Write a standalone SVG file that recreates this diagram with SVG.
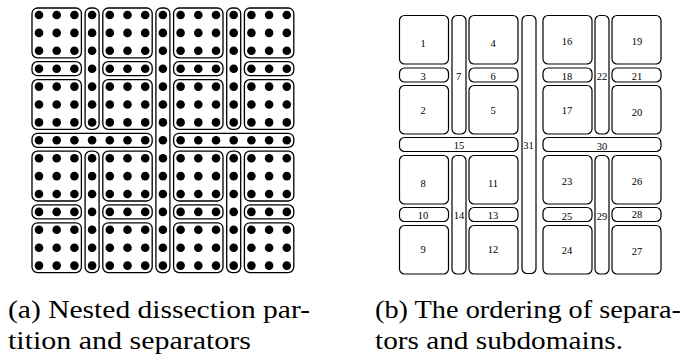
<svg xmlns="http://www.w3.org/2000/svg" xmlns:xlink="http://www.w3.org/1999/xlink" width="686" height="358" viewBox="0 0 686 358">
<style>
.r{fill:none;stroke:#000;stroke-width:1.3}
.q{fill:none;stroke:#000;stroke-width:1.2}
.d{fill:#000}
.n{font-family:"Liberation Serif","Times New Roman",serif;font-size:10.5px;text-anchor:middle;fill:#000}
.c{font-family:"Liberation Serif","Times New Roman",serif;font-size:25px;fill:#000}
</style>
<defs>
<g id="h3" class="d"><circle cx="0" cy="0" r="4.3"/><circle cx="17.7" cy="0" r="4.3"/><circle cx="35.4" cy="0" r="4.3"/></g>
<g id="b9"><use href="#h3"/><use href="#h3" y="17.9"/><use href="#h3" y="35.8"/></g>
<g id="v7" class="d"><circle cx="0" cy="0" r="4.3"/><circle cx="0" cy="17.9" r="4.3"/><circle cx="0" cy="35.8" r="4.3"/><circle cx="0" cy="53.7" r="4.3"/><circle cx="0" cy="71.6" r="4.3"/><circle cx="0" cy="89.5" r="4.3"/><circle cx="0" cy="107.4" r="4.3"/></g>
<g id="h7" class="d"><circle cx="0" cy="0" r="4.3"/><circle cx="17.7" cy="0" r="4.3"/><circle cx="35.4" cy="0" r="4.3"/><circle cx="53.1" cy="0" r="4.3"/><circle cx="70.8" cy="0" r="4.3"/><circle cx="88.5" cy="0" r="4.3"/><circle cx="106.2" cy="0" r="4.3"/></g>
<g id="v15"><use href="#v7"/><use href="#v7" y="143.2"/><circle class="d" cx="0" cy="125.3" r="4.3"/></g>
</defs>

<!-- (a) nested dissection partition -->
<g id="a1"><rect class="r" x="32" y="8" width="49.4" height="49.8" rx="5.5"/><use href="#b9" x="39" y="15"/></g>
<g id="a2"><rect class="r" x="32" y="79.6" width="49.4" height="49.8" rx="5.5"/><use href="#b9" x="39" y="86.6"/></g>
<g id="a3"><rect class="r" x="32" y="61.7" width="49.4" height="14" rx="5.5"/><use href="#h3" x="39" y="68.7"/></g>
<g id="a4"><rect class="r" x="102.8" y="8" width="49.4" height="49.8" rx="5.5"/><use href="#b9" x="109.8" y="15"/></g>
<g id="a5"><rect class="r" x="102.8" y="79.6" width="49.4" height="49.8" rx="5.5"/><use href="#b9" x="109.8" y="86.6"/></g>
<g id="a6"><rect class="r" x="102.8" y="61.7" width="49.4" height="14" rx="5.5"/><use href="#h3" x="109.8" y="68.7"/></g>
<g id="a7"><rect class="r" x="85.1" y="8" width="14" height="121.4" rx="5.5"/><use href="#v7" x="92.1" y="15"/></g>
<g id="a8"><rect class="r" x="32" y="151.2" width="49.4" height="49.8" rx="5.5"/><use href="#b9" x="39" y="158.2"/></g>
<g id="a9"><rect class="r" x="32" y="222.8" width="49.4" height="49.8" rx="5.5"/><use href="#b9" x="39" y="229.8"/></g>
<g id="a10"><rect class="r" x="32" y="204.9" width="49.4" height="14" rx="5.5"/><use href="#h3" x="39" y="211.9"/></g>
<g id="a11"><rect class="r" x="102.8" y="151.2" width="49.4" height="49.8" rx="5.5"/><use href="#b9" x="109.8" y="158.2"/></g>
<g id="a12"><rect class="r" x="102.8" y="222.8" width="49.4" height="49.8" rx="5.5"/><use href="#b9" x="109.8" y="229.8"/></g>
<g id="a13"><rect class="r" x="102.8" y="204.9" width="49.4" height="14" rx="5.5"/><use href="#h3" x="109.8" y="211.9"/></g>
<g id="a14"><rect class="r" x="85.1" y="151.2" width="14" height="121.4" rx="5.5"/><use href="#v7" x="92.1" y="158.2"/></g>
<g id="a15"><rect class="r" x="32" y="133.3" width="120.2" height="14" rx="5.5"/><use href="#h7" x="39" y="140.3"/></g>
<g id="a16"><rect class="r" x="173.6" y="8" width="49.4" height="49.8" rx="5.5"/><use href="#b9" x="180.6" y="15"/></g>
<g id="a17"><rect class="r" x="173.6" y="79.6" width="49.4" height="49.8" rx="5.5"/><use href="#b9" x="180.6" y="86.6"/></g>
<g id="a18"><rect class="r" x="173.6" y="61.7" width="49.4" height="14" rx="5.5"/><use href="#h3" x="180.6" y="68.7"/></g>
<g id="a19"><rect class="r" x="244.4" y="8" width="49.4" height="49.8" rx="5.5"/><use href="#b9" x="251.4" y="15"/></g>
<g id="a20"><rect class="r" x="244.4" y="79.6" width="49.4" height="49.8" rx="5.5"/><use href="#b9" x="251.4" y="86.6"/></g>
<g id="a21"><rect class="r" x="244.4" y="61.7" width="49.4" height="14" rx="5.5"/><use href="#h3" x="251.4" y="68.7"/></g>
<g id="a22"><rect class="r" x="226.7" y="8" width="14" height="121.4" rx="5.5"/><use href="#v7" x="233.7" y="15"/></g>
<g id="a23"><rect class="r" x="173.6" y="151.2" width="49.4" height="49.8" rx="5.5"/><use href="#b9" x="180.6" y="158.2"/></g>
<g id="a24"><rect class="r" x="173.6" y="222.8" width="49.4" height="49.8" rx="5.5"/><use href="#b9" x="180.6" y="229.8"/></g>
<g id="a25"><rect class="r" x="173.6" y="204.9" width="49.4" height="14" rx="5.5"/><use href="#h3" x="180.6" y="211.9"/></g>
<g id="a26"><rect class="r" x="244.4" y="151.2" width="49.4" height="49.8" rx="5.5"/><use href="#b9" x="251.4" y="158.2"/></g>
<g id="a27"><rect class="r" x="244.4" y="222.8" width="49.4" height="49.8" rx="5.5"/><use href="#b9" x="251.4" y="229.8"/></g>
<g id="a28"><rect class="r" x="244.4" y="204.9" width="49.4" height="14" rx="5.5"/><use href="#h3" x="251.4" y="211.9"/></g>
<g id="a29"><rect class="r" x="226.7" y="151.2" width="14" height="121.4" rx="5.5"/><use href="#v7" x="233.7" y="158.2"/></g>
<g id="a30"><rect class="r" x="173.6" y="133.3" width="120.2" height="14" rx="5.5"/><use href="#h7" x="180.6" y="140.3"/></g>
<g id="a31"><rect class="r" x="155.9" y="8" width="14" height="264.6" rx="5.5"/><use href="#v15" x="162.9" y="15"/></g>

<!-- (b) ordering -->
<g id="b1"><rect class="q" x="399.5" y="15.5" width="49" height="48.5" rx="5"/><text class="n" x="423" y="47">1</text></g>
<g id="b2"><rect class="q" x="399.5" y="85.5" width="49" height="48.5" rx="5"/><text class="n" x="423" y="114">2</text></g>
<g id="b3"><rect class="q" x="399.5" y="68" width="49" height="14" rx="5"/><text class="n" x="423" y="79.5">3</text></g>
<g id="b4"><rect class="q" x="469" y="15.5" width="49" height="48.5" rx="5"/><text class="n" x="493" y="47">4</text></g>
<g id="b5"><rect class="q" x="469" y="85.5" width="49" height="48.5" rx="5"/><text class="n" x="493" y="114">5</text></g>
<g id="b6"><rect class="q" x="469" y="68" width="49" height="14" rx="5"/><text class="n" x="493" y="79.5">6</text></g>
<g id="b7"><rect class="q" x="452" y="15.5" width="14" height="118.5" rx="5"/><text class="n" x="458.5" y="79.5">7</text></g>
<g id="b8"><rect class="q" x="399.5" y="155.5" width="49" height="48.5" rx="5"/><text class="n" x="423" y="187">8</text></g>
<g id="b9n"><rect class="q" x="399.5" y="225.5" width="49" height="48.5" rx="5"/><text class="n" x="423" y="253">9</text></g>
<g id="b10"><rect class="q" x="399.5" y="207.5" width="49" height="14" rx="5"/><text class="n" x="423" y="218.5">10</text></g>
<g id="b11"><rect class="q" x="469" y="155.5" width="49" height="48.5" rx="5"/><text class="n" x="493" y="187">11</text></g>
<g id="b12"><rect class="q" x="469" y="225.5" width="49" height="48.5" rx="5"/><text class="n" x="493" y="253">12</text></g>
<g id="b13"><rect class="q" x="469" y="207.5" width="49" height="14" rx="5"/><text class="n" x="493" y="218.5">13</text></g>
<g id="b14"><rect class="q" x="452" y="155.5" width="14" height="118.5" rx="5"/><text class="n" x="459" y="218.5">14</text></g>
<g id="b15"><rect class="q" x="399.5" y="137.5" width="118.5" height="14" rx="5"/><text class="n" x="459" y="149">15</text></g>
<g id="b16"><rect class="q" x="543" y="15.5" width="49" height="48.5" rx="5"/><text class="n" x="567" y="44.5">16</text></g>
<g id="b17"><rect class="q" x="543" y="85.5" width="49" height="48.5" rx="5"/><text class="n" x="567" y="114">17</text></g>
<g id="b18"><rect class="q" x="543" y="68" width="49" height="14" rx="5"/><text class="n" x="567" y="80">18</text></g>
<g id="b19"><rect class="q" x="612" y="15.5" width="49" height="48.5" rx="5"/><text class="n" x="637" y="44.5">19</text></g>
<g id="b20"><rect class="q" x="612" y="85.5" width="49" height="48.5" rx="5"/><text class="n" x="637" y="115.5">20</text></g>
<g id="b21"><rect class="q" x="612" y="68" width="49" height="14" rx="5"/><text class="n" x="637" y="79.5">21</text></g>
<g id="b22"><rect class="q" x="595" y="15.5" width="14" height="118.5" rx="5"/><text class="n" x="602" y="79.5">22</text></g>
<g id="b23"><rect class="q" x="543" y="155.5" width="49" height="48.5" rx="5"/><text class="n" x="567" y="185">23</text></g>
<g id="b24"><rect class="q" x="543" y="225.5" width="49" height="48.5" rx="5"/><text class="n" x="567" y="253.5">24</text></g>
<g id="b25"><rect class="q" x="543" y="207.5" width="49" height="14" rx="5"/><text class="n" x="567" y="220">25</text></g>
<g id="b26"><rect class="q" x="612" y="155.5" width="49" height="48.5" rx="5"/><text class="n" x="637" y="185">26</text></g>
<g id="b27"><rect class="q" x="612" y="225.5" width="49" height="48.5" rx="5"/><text class="n" x="637" y="255">27</text></g>
<g id="b28"><rect class="q" x="612" y="207.5" width="49" height="14" rx="5"/><text class="n" x="637" y="217.5">28</text></g>
<g id="b29"><rect class="q" x="595" y="155.5" width="14" height="118.5" rx="5"/><text class="n" x="602" y="220">29</text></g>
<g id="b30"><rect class="q" x="543" y="137.5" width="118" height="14" rx="5"/><text class="n" x="602" y="150">30</text></g>
<g id="b31"><rect class="q" x="522" y="15.5" width="14" height="258" rx="5"/><text class="n" x="528.5" y="149">31</text></g>

<g id="connectors"></g>

<!-- captions -->
<text class="c" x="8" y="318" textLength="302" lengthAdjust="spacingAndGlyphs">(a) Nested dissection par-</text>
<text class="c" x="8" y="349" textLength="243" lengthAdjust="spacingAndGlyphs">tition and separators</text>
<text class="c" x="375" y="318" textLength="306" lengthAdjust="spacingAndGlyphs">(b) The ordering of separa-</text>
<text class="c" x="375" y="349" textLength="248" lengthAdjust="spacingAndGlyphs">tors and subdomains.</text>
</svg>
